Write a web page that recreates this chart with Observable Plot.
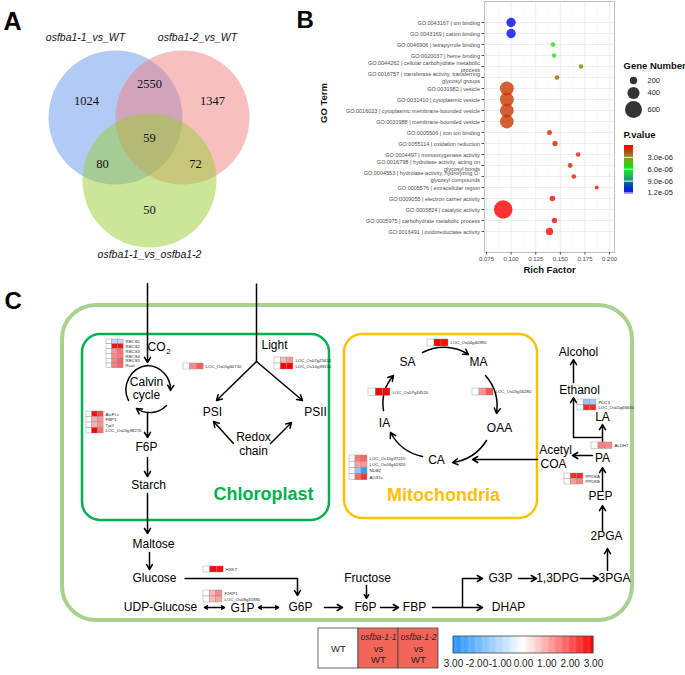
<!DOCTYPE html>
<html><head><meta charset="utf-8">
<script src="https://cdn.jsdelivr.net/npm/d3@7"></script>
<script src="https://cdn.jsdelivr.net/npm/@observablehq/plot@0.6"></script>
<style>
body{margin:0;background:#fff;}
#wrap{position:relative;width:685px;height:675px;overflow:hidden;background:#fff;}
#wrap > div{position:absolute;}
</style></head><body><div id="wrap"></div>
<script>
// ---------------- DATA ----------------
// Panel A (Venn)
const vennSetNames = ["osfba1-1_vs_WT", "osfba1-2_vs_WT", "osfba1-1_vs_osfba1-2"];
const vennRegions = ["1", "2", "3", "12", "13", "23", "123"];
const vennCounts = [1024, 1347, 50, 2550, 80, 72, 59];

// Panel B (GO enrichment)
const goTerms = [
  "GO:0043167 | ion binding",
  "GO:0043169 | cation binding",
  "GO:0046906 | tetrapyrrole binding",
  "GO:0020037 | heme binding",
  "GO:0044262 | cellular carbohydrate metabolic\nprocess",
  "GO:0016757 | transferase activity, transferring\nglycosyl groups",
  "GO:0031982 | vesicle",
  "GO:0031410 | cytoplasmic vesicle",
  "GO:0016023 | cytoplasmic membrane-bounded vesicle",
  "GO:0031988 | membrane-bounded vesicle",
  "GO:0005506 | iron ion binding",
  "GO:0055114 | oxidation reduction",
  "GO:0004497 | monooxygenase activity",
  "GO:0016798 | hydrolase activity, acting on\nglycosyl bonds",
  "GO:0004553 | hydrolase activity, hydrolyzing O-\nglycosyl compounds",
  "GO:0005576 | extracellular region",
  "GO:0009055 | electron carrier activity",
  "GO:0003824 | catalytic activity",
  "GO:0005975 | carbohydrate metabolic process",
  "GO:0016491 | oxidoreductase activity"
];
const richFactor = [0.100, 0.100, 0.1426, 0.1436, 0.171, 0.1466, 0.0957, 0.0957, 0.0957, 0.0957,
  0.139, 0.1446, 0.168, 0.160, 0.1637, 0.187, 0.142, 0.092, 0.144, 0.139];
const geneNumber = [280, 280, 85, 75, 75, 85, 470, 470, 465, 465, 100, 115, 85, 90, 85, 60, 125, 665, 115, 200];
const pValue = [1.19e-5, 1.18e-5, 5.5e-6, 5.4e-6, 3.1e-6, 2.5e-6, 1.3e-6, 1.3e-6, 1.3e-6, 1.3e-6,
  1.0e-6, 8e-7, 7e-7, 8e-7, 7e-7, 5e-7, 6e-7, 1e-8, 3e-7, 2e-7];
const richTicks = [0.075, 0.100, 0.125, 0.150, 0.175, 0.200];
const richMinorTicks = [0.0875, 0.1125, 0.1375, 0.1625, 0.1875];
const geneLegend = [200, 400, 600];
const pLegendTicks = [3e-6, 6e-6, 9e-6, 1.2e-5];

// Panel C (pathway heatmaps: log2 fold change, WT is reference)
const hmBlock = ["rbcs","rbcs","rbcs","rbcs","rbcs","rbcs","fba","fba","fba","fba","psi","psii","psii",
  "samma","iasa","maoaa","ca","ca","ca","ca","eth","eth","aldh","ppdk","ppdk","hxk","f2kp","f2kp"];
const hmGene = ["RBCS1","RBCS2","RBCS3","RBCS4","RBCS5","RcaL","AtcFI-c","FBP1","TpiY","LOC_Os05g38270",
  "LOC_Os01g60710","LOC_Os07g25610","LOC_Os10g39150","LOC_Os04g40990","LOC_Os07g34520","LOC_Os03g56280",
  "LOC_Os10g37210","LOC_Os03g61920","NDB2","AOX1c","PDC3","LOC_Os01g66660","ALDH7","PPDKA","PPDKB",
  "HXK7","F2KP1","LOC_Os08g31880"];
const hmM1 = [-1.0,2.8,1.3,1.4,1.5,1.5, 2.8,1.0,0.9,3.0, 1.4, 0.9,3.0, 3.0, 3.0, 1.3, 1.6,1.1,-1.5,1.8, -1.5,2.6, 1.5, 2.5,1.2, 2.9, 0.9,0.8];
const hmM2 = [-1.0,2.8,1.7,1.6,1.9,1.8, 2.2,1.3,1.3,1.7, 1.9, 1.2,3.0, 2.9, 3.0, 2.0, 1.8,1.2,-2.7,2.4, -1.3,2.5, 1.4, 2.6,1.5, 2.9, 1.4,1.1];
const hmColumns = ["WT", "osfba-1-1", "osfba-1-2"];
const fcTicks = [-3, -2, -1, 0, 1, 2, 3];
const fcTickLabels = ["3.00", "-2.00", "-1.00", "0.00", "1.00", "2.00", "3.00"];

// ---------------- LAYOUT ----------------
const FONT = '"Liberation Sans", Arial, Helvetica, sans-serif';
const W = 685, H = 675;
const wrap = document.getElementById("wrap");
function place(el, l, t) { const d = document.createElement("div"); d.style.left = l + "px"; d.style.top = t + "px"; d.appendChild(el); wrap.appendChild(d); }

const vennCircleLayout = [{cx:115, cy:117, fill:"#6495ED"}, {cx:182, cy:117, fill:"#F08080"}, {cx:149, cy:180, fill:"#9ACD32"}];
const vennRadius = 67;
const vennSetLabelPos = [[85, 37], [197, 37], [149, 254]];
const vennCountPos = {"1":[86,100], "2":[212,100], "3":[149,209], "12":[149,83], "13":[102,163], "23":[195,163], "123":[149,137]};

const blockLayout = {
  rbcs:{x:106,y:339,w:5.7,h:4.8}, fba:{x:86,y:411,w:5.7,h:5.5}, psi:{x:183,y:363,w:6.7,h:6},
  psii:{x:274,y:357,w:6.3,h:6}, samma:{x:427,y:339,w:7,h:7}, iasa:{x:368,y:388,w:7.3,h:7.3},
  maoaa:{x:472,y:388,w:7,h:7}, ca:{x:349,y:455,w:6,h:6.2}, eth:{x:577,y:399,w:6.3,h:5.5},
  aldh:{x:591,y:442,w:7,h:6.5}, ppdk:{x:564,y:473,w:6.3,h:5.5}, hxk:{x:203,y:566,w:6.7,h:6},
  f2kp:{x:203,y:590,w:6.3,h:6}
};

const nodes = [
  ["Light",274,345],["Calvin",146,382],["cycle",146,395],["PSI",212,412],["PSII",315,412],["Redox",253,437],["chain",253,451],
  ["F6P",146,447],["Starch",148,485],["SA",407,362],["MA",478,362],["OAA",499,428],["CA",436,460],["IA",384,423],
  ["Alcohol",578,352],["Ethanol",579,390],["LA",602,417],["PA",602,458],["Acetyl",555,450],["COA",553,464],["PEP",600,496],
  ["2PGA",606,536],["3PGA",614,578],["1,3DPG",557,578],["G3P",500,578],["DHAP",508,607],["FBP",414,607],["F6P",365,607],
  ["Fructose",367,578],["G6P",300,607],["G1P",242,608],["UDP-Glucose",160,607],["Glucose",154,578],["Maltose",153,544]
];
const straightArrows = [
  [147,283,147,362],[256,361,216,400],[256,361,302,400],[233,443,213,421],[270,443,291,422],
  [147,413,147,437],[147,457,147,476],[147,493,147,533],[149,552,149,569],
  [297,578,297,595],[214,607,204,607],[214,607,224,607],[268,607,258,607],[268,607,278,607],
  [324,607,342,607],[366,585,366,598],[380,607,398,607],[432,607,482,607],[462,578,482,578],
  [518,578,536,578],[580,578,598,578],[607,570,607,548],[602,530,602,505],[602,490,602,467],
  [602,445,602,424],[573,437,573,397],[573,382,573,359],[592,455,572,455],[537,459,472,459]
];
const plainLinks = [[256,283,256,361],[602,437,573,437],[184,578,297,578],[462,607,462,578]];
const curvedArrows = [
  // Calvin cycle
  [128,400,147,365,55,0],[147,365,170,390,45,6],[166,405,136,408,40,6],
  // TCA cycle
  [422,352,468,354,30,6],[485,375,496,413,25,6],[486,440,452,462,25,6],[422,456,390,432,25,6],[383,410,393,375,25,6]
];

// ---------------- PANEL C (+ A, letters) ----------------
const cellRects = [], cellLabels = [];
const blockRow = {};
hmGene.forEach((g, i) => {
  const b = hmBlock[i]; const L = blockLayout[b];
  const r = blockRow[b] = (blockRow[b] ?? -1) + 1;
  [0, hmM1[i], hmM2[i]].forEach((v, c) => cellRects.push({
    x1: L.x + c * L.w, x2: L.x + (c + 1) * L.w, y1: L.y + r * L.h, y2: L.y + (r + 1) * L.h, v
  }));
  cellLabels.push({label: g, lx: L.x + 3 * L.w + 2, ly: L.y + (r + 0.5) * L.h});
});

const barScale = d3.scaleLinear([-3, 3], [453, 593]);
const barSteps = d3.range(-3, 3, 0.05);

const venn = vennCircleLayout.map(c => Plot.dot([c], {x:"cx", y:"cy", r: vennRadius, fill: c.fill, fillOpacity: 0.5}));

const plotC = Plot.plot({
  width: W, height: H, margin: 0,
  x: {domain: [0, W], range: [0, W], axis: null},
  y: {domain: [0, H], range: [0, H], axis: null},
  color: {type: "linear", domain: [-3, 0, 3], range: ["#1e90ff", "#ffffff", "#ff0000"]},
  style: {background: "transparent", fontFamily: FONT, overflow: "visible"},
  marks: [
    ...venn,
    Plot.text(vennSetNames, {x: (d, i) => vennSetLabelPos[i][0], y: (d, i) => vennSetLabelPos[i][1], fontSize: 10.5, fontStyle: "italic", fill: "#111"}),
    Plot.text(vennCounts, {x: (d, i) => vennCountPos[vennRegions[i]][0], y: (d, i) => vennCountPos[vennRegions[i]][1], text: d => String(d), fontSize: 12.5, fontFamily: '"Liberation Serif", "Times New Roman", serif', fill: "#111"}),
    Plot.text(["A"], {x: 3, y: 21, textAnchor: "start", fontSize: 25, fontWeight: "bold"}),
    Plot.text(["B"], {x: 296, y: 20, textAnchor: "start", fontSize: 24, fontWeight: "bold"}),
    Plot.text(["C"], {x: 4, y: 301, textAnchor: "start", fontSize: 24, fontWeight: "bold"}),
    // compartments
    Plot.rect([0], {x1: 62, x2: 632, y1: 305, y2: 620, rx: 34, ry: 34, fill: "none", stroke: "#a9d18e", strokeWidth: 4}),
    Plot.rect([0], {x1: 82, x2: 329, y1: 334, y2: 520, rx: 18, ry: 18, fill: "none", stroke: "#00b050", strokeWidth: 2.5}),
    Plot.rect([0], {x1: 344, x2: 537, y1: 334, y2: 518, rx: 18, ry: 18, fill: "none", stroke: "#ffc000", strokeWidth: 2.5}),
    Plot.text(["Chloroplast"], {x: 263, y: 494, fontSize: 18, fontWeight: "bold", fill: "#00b050"}),
    Plot.text(["Mitochondria"], {x: 443, y: 495, fontSize: 18, fontWeight: "bold", fill: "#ffc000"}),
    // links & arrows
    Plot.link(plainLinks, {x1: d => d[0], y1: d => d[1], x2: d => d[2], y2: d => d[3], stroke: "#000", strokeWidth: 1.5}),
    Plot.arrow(straightArrows, {x1: d => d[0], y1: d => d[1], x2: d => d[2], y2: d => d[3], stroke: "#000", strokeWidth: 1.5, headLength: 6}),
    ...curvedArrows.map(a => Plot.arrow([a], {x1: d => d[0], y1: d => d[1], x2: d => d[2], y2: d => d[3], bend: a[4], headLength: a[5], stroke: "#000", strokeWidth: 1.5})),
    // node labels
    Plot.text(nodes, {x: d => d[1], y: d => d[2], text: d => d[0], fontSize: 12, fill: "#000"}),
    Plot.text(["CO"], {x: 156, y: 347, fontSize: 12}),
    Plot.text(["2"], {x: 168, y: 351, fontSize: 8}),
    // heatmaps
    Plot.rect(cellRects, {x1: "x1", x2: "x2", y1: "y1", y2: "y2", fill: "v", stroke: "#8a8a8a", strokeWidth: 0.4}),
    Plot.text(cellLabels, {x: "lx", y: "ly", text: "label", textAnchor: "start", fontSize: 4.3, fill: "#222"}),
    // heatmap legend box
    Plot.rect(hmColumns, {x1: (d, i) => 318 + i * 40, x2: (d, i) => 358 + i * 40, y1: 628, y2: 668, fill: (d, i) => i === 0 ? "#ffffff" : "#f26659", stroke: "#444", strokeWidth: 0.8}),
    Plot.text(hmColumns.slice(0, 1), {x: 338, y: 648, fontSize: 9.5, fill: "#222"}),
    Plot.text(hmColumns.slice(1), {x: (d, i) => 378 + i * 40, y: 637, fontSize: 8.5, fontStyle: "italic", fill: "#222"}),
    Plot.text(hmColumns.slice(1), {x: (d, i) => 378 + i * 40, y: 648, text: () => "vs", fontSize: 9.5, fill: "#222"}),
    Plot.text(hmColumns.slice(1), {x: (d, i) => 378 + i * 40, y: 659, text: () => hmColumns[0], fontSize: 9.5, fill: "#222"}),
    // color bar legend
    Plot.rect(barSteps, {x1: d => barScale(d), x2: d => barScale(d + 0.05) + 0.3, y1: 636, y2: 653, fill: d => d + 0.025}),
    Plot.rect([0], {x1: 453, x2: 593, y1: 636, y2: 653, fill: "none", stroke: "#444", strokeWidth: 0.8}),
    Plot.text(fcTickLabels, {x: (d, i) => barScale(fcTicks[i]), y: 663, fontSize: 10, fill: "#222"})
  ]
});
place(plotC, 0, 0);

// ---------------- PANEL B ----------------
const bData = goTerms.map((t, i) => ({term: t, rich: richFactor[i], genes: geneNumber[i], p: pValue[i]}));
const rScale = {type: "linear", domain: [200, 600], range: [3.7, 8.5]};
const colorScale = {type: "linear", domain: [0, 6e-6, 1.2e-5], range: ["#ff0000", "#00ff00", "#0000ff"], interpolate: "rgb"};
const plotB = Plot.plot({
  width: 415, height: 300, marginLeft: 214, marginRight: 71, marginTop: 1, marginBottom: 48,
  x: {domain: [0.073, 0.205]},
  y: {type: "point", domain: goTerms, padding: 1.5},
  r: rScale,
  color: colorScale,
  style: {background: "transparent", fontFamily: FONT, overflow: "visible"},
  marks: [
    Plot.gridX(richMinorTicks, {stroke: "#f3f3f3", strokeOpacity: 1, strokeWidth: 0.5}),
    Plot.gridX(richTicks, {stroke: "#ebebeb", strokeOpacity: 1, strokeWidth: 0.9}),
    Plot.gridY({stroke: "#ebebeb", strokeOpacity: 1, strokeWidth: 0.9}),
    Plot.frame({stroke: "#b8b8b8", strokeWidth: 0.9}),
    Plot.axisX(richTicks, {tickFormat: d3.format(".3f"), tickSize: 2.5, tickPadding: 1.5, fontSize: 6, color: "#4d4d4d", label: null}),
    Plot.axisY({tickSize: 2.5, tickPadding: 2, fontSize: 5.5, color: "#4d4d4d", label: null, lineHeight: 1.15}),
    Plot.dot(bData, {x: "rich", y: "term", r: "genes", fill: "p", fillOpacity: 0.8}),
    Plot.text(["Rich Factor"], {frameAnchor: "bottom", dy: 20, fontSize: 9.5, fontWeight: "bold", fill: "#111"}),
    Plot.text(["GO Term"], {frameAnchor: "left", dx: -161, dy: -4, rotate: -90, fontSize: 9.5, fontWeight: "bold", fill: "#111"})
  ]
});
place(plotB, 270, 0);

// ---------------- PANEL B LEGENDS ----------------
const legendDotY = [80, 92.5, 109];
const pBar = d3.scaleLinear([0, 1.2e-5], [145, 192.5]);
const pSteps = d3.range(0, 1.2e-5, 2.4e-7);
const fmtP = v => v.toExponential(1).replace(/e-(\d)$/, "e-0$1");
const plotL = Plot.plot({
  width: 85, height: 170, margin: 0,
  x: {domain: [600, 685], range: [0, 85], axis: null},
  y: {domain: [40, 210], range: [0, 170], axis: null},
  r: rScale, color: colorScale,
  style: {background: "transparent", fontFamily: FONT, overflow: "visible"},
  marks: [
    Plot.text(["Gene Number"], {x: 623, y: 65, textAnchor: "start", fontSize: 9.5, fontWeight: "bold", fill: "#111"}),
    Plot.dot(geneLegend, {x: 633, y: (d, i) => legendDotY[i], r: d => d, fill: "#333"}),
    Plot.text(geneLegend, {x: 647, y: (d, i) => legendDotY[i], text: d => String(d), textAnchor: "start", fontSize: 7.5, fill: "#222"}),
    Plot.text(["P.value"], {x: 623, y: 134, textAnchor: "start", fontSize: 9.5, fontWeight: "bold", fill: "#111"}),
    Plot.rect(pSteps, {x1: 624, x2: 633, y1: d => pBar(d), y2: d => pBar(d + 2.4e-7) + 0.3, fill: d => d + 1.2e-7}),
    Plot.tickY(pLegendTicks, {y: d => pBar(d), x1: 624, x2: 626, stroke: "#fff", strokeWidth: 0.6}),
    Plot.tickY(pLegendTicks, {y: d => pBar(d), x1: 631, x2: 633, stroke: "#fff", strokeWidth: 0.6}),
    Plot.text(pLegendTicks, {x: 647, y: d => pBar(d), text: d => fmtP(d), textAnchor: "start", fontSize: 7.5, fill: "#222"})
  ]
});
place(plotL, 600, 40);
</script></body></html>
